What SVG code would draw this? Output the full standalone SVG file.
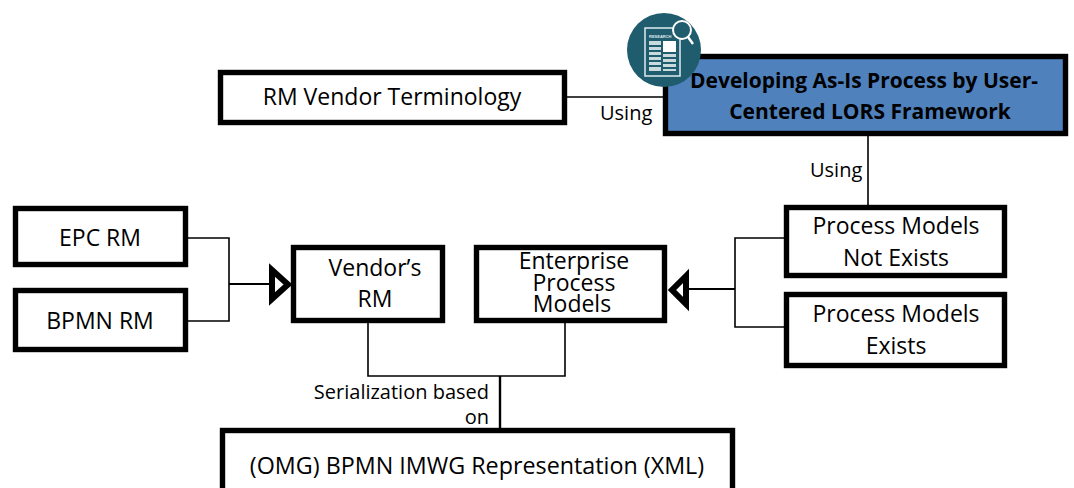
<svg xmlns="http://www.w3.org/2000/svg" width="1074" height="488" viewBox="0 0 1074 488">
<style>
.box{fill:#fff;stroke:#000;stroke-width:5.400}
.t{font-family:"Open Sans","Noto Sans","Liberation Sans",sans-serif;font-size:23px;fill:#000;text-anchor:middle}
.s{font-family:"Open Sans","Noto Sans","Liberation Sans",sans-serif;font-size:20px;fill:#000}
.b{font-weight:700;font-size:21px}
.c{fill:none;stroke:#000;stroke-width:1.6}
.h{fill:#fff;stroke:#000;stroke-width:6}
.st{fill:#c9dadf}
</style>
<g id="connectors">
<path class="c" d="M566 97H664"/>
<path class="c" d="M868 136V205"/>
<path class="c" d="M188 238H229V321H188"/>
<path class="c" d="M229 284H272" style="stroke-width:2"/>
<path class="c" d="M785 238H735V327H785"/>
<path class="c" d="M735 289H688" style="stroke-width:2"/>
<path class="c" d="M368 322V376H565V322"/>
<path class="c" d="M500 376V428" style="stroke-width:2.4"/>
<path class="h" d="M272 270L288 284.500L272 299Z"/>
<path class="h" d="M686 276L672 290L686 304Z"/>
</g>
<g id="rm-vendor-terminology"><rect class="box" x="220.500" y="72.500" width="344" height="50"/><text class="t" x="392" y="105">RM Vendor Terminology</text></g>
<g id="as-is-process"><rect x="665.500" y="56.500" width="400" height="77" fill="#4f81bd" stroke="#000" stroke-width="5.400"/><text class="t b" x="864" y="88">Developing As-Is Process by User-</text><text class="t b" x="870" y="119">Centered LORS Framework</text></g>
<g id="research-icon">
<circle cx="664" cy="50" r="37" fill="#1f5c6e"/>
<path d="M645 28H680V76H645Z" fill="none" stroke="#dfeaee" stroke-width="1.500"/>
<text x="649" y="38" font-family="'Liberation Sans',sans-serif" font-size="4" font-weight="700" fill="#dfeaee">RESEARCH</text>
<rect x="649" y="41" width="12" height="4" class="st"/><rect x="649" y="47" width="12" height="3" class="st"/><rect x="649" y="52" width="12" height="3" class="st"/><rect x="649" y="57" width="12" height="3" class="st"/><rect x="649" y="62" width="12" height="3" class="st"/><rect x="649" y="67" width="12" height="4" class="st"/>
<rect x="663" y="41" width="13" height="11" fill="#fff"/>
<rect x="663" y="54" width="13" height="3" class="st"/><rect x="663" y="59" width="13" height="3" class="st"/><rect x="663" y="64" width="13" height="3" class="st"/><rect x="663" y="69" width="13" height="2" class="st"/>
<circle cx="682" cy="30" r="9" fill="#1f5c6e" stroke="#fff" stroke-width="2"/>
<path d="M688 37L693 44" stroke="#fff" stroke-width="2.500"/>
</g>
<g id="epc-rm"><rect class="box" x="15.500" y="208.500" width="170" height="56"/><text class="t" x="100" y="246">EPC RM</text></g>
<g id="bpmn-rm"><rect class="box" x="15.500" y="290.500" width="170" height="59"/><text class="t" x="100" y="329">BPMN RM</text></g>
<g id="vendors-rm"><rect class="box" x="293.500" y="247.500" width="149" height="73"/><text class="t" x="375" y="276">Vendor’s</text><text class="t" x="375" y="307">RM</text></g>
<g id="enterprise-process-models"><rect class="box" x="476.500" y="247.500" width="188" height="73"/><text class="t" x="574" y="269">Enterprise</text><text class="t" x="574" y="291">Process</text><text class="t" x="572" y="312">Models</text></g>
<g id="process-models-not-exists"><rect class="box" x="786.500" y="207.500" width="218" height="68"/><text class="t" x="896" y="234">Process Models</text><text class="t" x="896" y="266">Not Exists</text></g>
<g id="process-models-exists"><rect class="box" x="786.500" y="294.500" width="218" height="71"/><text class="t" x="896" y="322">Process Models</text><text class="t" x="896" y="354">Exists</text></g>
<g id="omg-bpmn"><rect class="box" x="222.500" y="430.500" width="510" height="70"/><text class="t" x="477" y="474" style="font-size:23.300px">(OMG) BPMN IMWG Representation (XML)</text></g>
<g id="labels">
<text class="s" x="600" y="120">Using</text>
<text class="s" x="810" y="177">Using</text>
<text class="s" x="489" y="399" text-anchor="end">Serialization based</text>
<text class="s" x="489" y="424" text-anchor="end">on</text>
</g>
</svg>
